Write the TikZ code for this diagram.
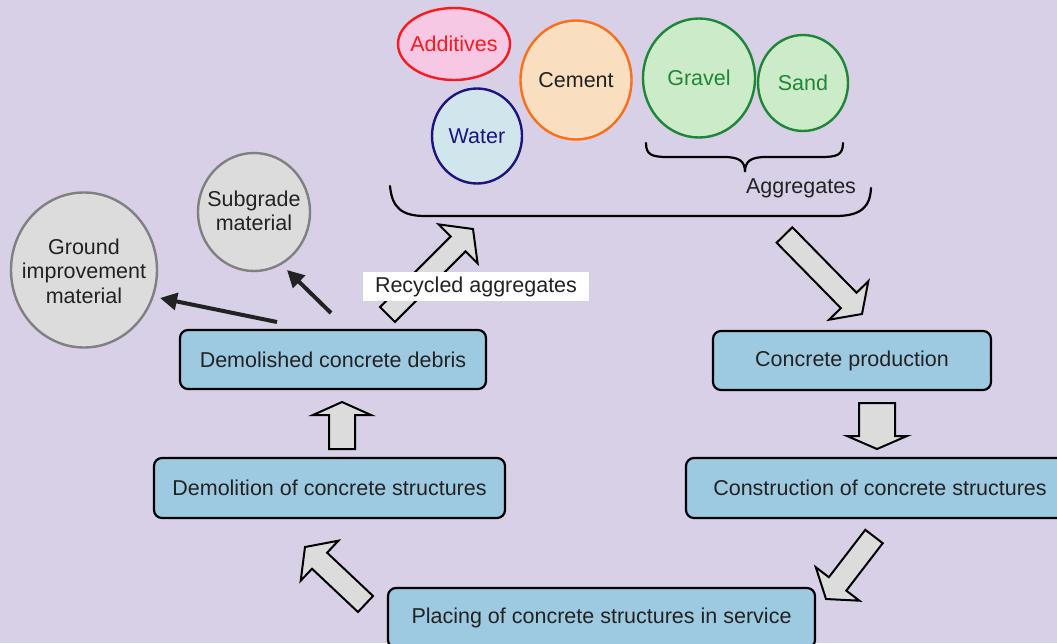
\documentclass[tikz,border=0pt]{standalone}
\usepackage{fontspec}
\setmainfont{Liberation Sans}
\usetikzlibrary{shapes.geometric,arrows.meta,calc}

\definecolor{bg}{RGB}{216,208,230}
\definecolor{boxblue}{RGB}{158,202,225}
\definecolor{lightgrey}{RGB}{220,220,220}
\definecolor{ringgrey}{RGB}{128,128,128}
\definecolor{inkdark}{RGB}{34,34,34}
\definecolor{addred}{RGB}{250,25,30}
\definecolor{addfill}{RGB}{246,200,228}
\definecolor{watblue}{RGB}{30,20,125}
\definecolor{watfill}{RGB}{208,230,236}
\definecolor{cemorange}{RGB}{252,110,25}
\definecolor{cemfill}{RGB}{249,223,192}
\definecolor{aggreen}{RGB}{30,135,55}
\definecolor{aggfill}{RGB}{204,235,200}

% thick block arrow from tail (#1) to tip (#2):
% #3 half shaft width, #4 half head width, #5 head length
\newcommand{\blockarrow}[5]{%
  \coordinate (ba-base) at ($(#2)!#5!(#1)$);
  \draw[flowarrow] ($(#1)!#3!90:(#2)$) -- ($(ba-base)!#3!90:(#2)$)
    -- ($(ba-base)!#4!90:(#2)$) -- (#2) -- ($(ba-base)!#4!-90:(#2)$)
    -- ($(ba-base)!#3!-90:(#2)$) -- ($(#1)!#3!-90:(#2)$) -- cycle;}

\begin{document}
\begin{tikzpicture}[x=1pt,y=-1pt,
  font=\fontsize{21.5}{24.5}\selectfont,
  blob/.style={ellipse, inner sep=0pt, line width=2.4pt},
  material/.style={blob, draw=ringgrey, fill=lightgrey},
  caption/.style={align=center, inner sep=0pt},
  stage/.style={rectangle, rounded corners=8pt, draw=black, line width=2.2pt,
    fill=boxblue, text=inkdark, inner sep=0pt},
  flowarrow/.style={fill=lightgrey, draw=black, line width=2pt, line join=miter},
  usearrow/.style={draw=inkdark, line width=4pt,
    -{Triangle[length=17pt,width=17pt]}},
  brace/.style={draw=black, line width=2.2pt, line cap=round}]

\useasboundingbox (0,0) rectangle (1057,643);
\fill[bg] (0,0) rectangle (1057,643);
\clip (0,0) rectangle (1057,643);

% ingredients
\node[blob, draw=addred, fill=addfill,
  minimum width=112pt, minimum height=72pt] (add) at (454,44) {};
\node[caption, text=addred] at (add) {Additives};
\node[blob, draw=watblue, fill=watfill,
  minimum width=90pt, minimum height=95pt] (water) at (477,136) {};
\node[caption, text=watblue] at (water) {Water};
\node[blob, draw=cemorange, fill=cemfill,
  minimum width=111pt, minimum height=119pt] (cement) at (576,80) {};
\node[caption, text=inkdark] at (cement) {Cement};
\node[blob, draw=aggreen, fill=aggfill,
  minimum width=112pt, minimum height=119pt] (gravel) at (699,78) {};
\node[caption, text=aggreen] at (gravel) {Gravel};
\node[blob, draw=aggreen, fill=aggfill,
  minimum width=90pt, minimum height=96pt] (sand) at (803,83) {};
\node[caption, text=aggreen] at (sand) {Sand};

% braces
\draw[brace] (646,143) .. controls (646,155) and (652,157) .. (668,157)
  -- (724,157) .. controls (739,157) and (745,161) .. (745,172)
  .. controls (745,161) and (751,157) .. (766,157)
  -- (821,157) .. controls (837,157) and (843,155) .. (843,143);
\node[text=inkdark] (agg) at (801,188) {Aggregates};
\draw[brace] (390,186) .. controls (392,208) and (402,216) .. (425,216)
  -- (835,216) .. controls (860,216) and (870,208) .. (871,188);

% reuse options
\node[material, minimum width=112pt, minimum height=118pt]
  (subgrade) at (254,212) {};
\node[caption, text=inkdark] at (254,211) {Subgrade\\material};
\node[material, minimum width=146pt, minimum height=155pt]
  (ground) at (84,270) {};
\node[caption, text=inkdark] at (84,271) {Ground\\improvement\\material};

% life-cycle stages
\node[stage, minimum width=306pt, minimum height=59pt]
  (debris) at (333,359.5) {Demolished concrete debris};
\node[stage, minimum width=278pt, minimum height=59pt]
  (production) at (852,360.5) {Concrete production};
\node[stage, minimum width=388pt, minimum height=60pt]
  (construction) at (880,488) {Construction of concrete structures};
\node[stage, minimum width=351pt, minimum height=60pt]
  (demolition) at (329.5,488) {Demolition of concrete structures};
\node[stage, minimum width=427pt, minimum height=60pt]
  (service) at (601.5,618) {Placing of concrete structures in service};

% arrow end points
\coordinate (ra-tail) at (387.5,314.5);
\coordinate (ra-tip)  at (473,229);
\coordinate (pr-tail) at (784.5,235);
\coordinate (pr-tip)  at (862,314);
\coordinate (co-tail) at (877,403);
\coordinate (co-tip)  at (877,449);
\coordinate (se-tail) at (874,536.5);
\coordinate (se-tip)  at (826,599);
\coordinate (de-tail) at (365.5,604);
\coordinate (de-tip)  at (305,547);
\coordinate (db-tail) at (342,449);
\coordinate (db-tip)  at (342,402);
\coordinate (gr-from) at (277,322);
\coordinate (gr-to)   at (160,298);
\coordinate (sg-from) at (331,313);
\coordinate (sg-to)   at (287,270);

% cycle arrows
\blockarrow{ra-tail}{ra-tip}{10.5pt}{27.5pt}{21pt}
\blockarrow{pr-tail}{pr-tip}{11pt}{27.5pt}{19pt}
\blockarrow{co-tail}{co-tip}{18pt}{30pt}{13pt}
\blockarrow{se-tail}{se-tip}{11pt}{27.5pt}{19pt}
\blockarrow{de-tail}{de-tip}{11pt}{27.5pt}{20pt}
\blockarrow{db-tail}{db-tip}{13pt}{29pt}{13pt}

\node[fill=white, text=inkdark, minimum width=226pt, minimum height=29pt,
  inner sep=0pt] (recycled) at (476,286.5) {Recycled aggregates};

% reuse arrows
\draw[usearrow] (gr-from) -- (gr-to);
\draw[usearrow] (sg-from) -- (sg-to);
\end{tikzpicture}
\end{document}
